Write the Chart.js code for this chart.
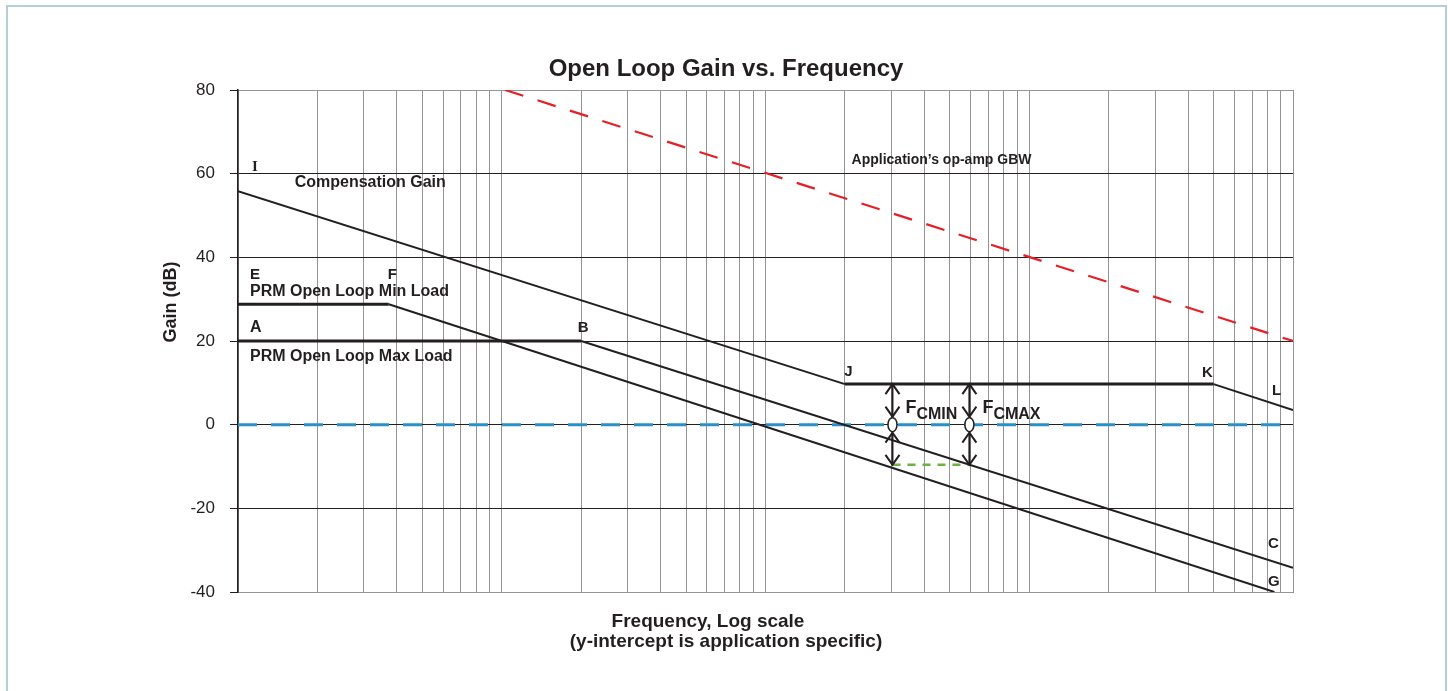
<!DOCTYPE html>
<html>
<head>
<meta charset="utf-8">
<script src="https://cdn.jsdelivr.net/npm/chart.js@4"></script>
<style>
  html, body { margin: 0; padding: 0; background: #fff; }
  #wrap { position: relative; width: 1448px; height: 691px; overflow: hidden; }
  #frame { position: absolute; left: 6px; top: 5px; width: 1437px; height: 700px;
           border: 2px solid #b3d0d9; border-bottom: none; pointer-events: none; }
  canvas { position: absolute; left: 0; top: 0; }
</style>
</head>
<body>
<div id="wrap">
  <canvas id="chart" width="1448" height="691"></canvas>
  <div id="frame"></div>
</div>
<script>
const FONT = "'Liberation Sans', Arial, sans-serif"

// frequency axis: 4 decades, arbitrary units (log scale)
const decades = [1, 10, 100, 1000]
const gridFreqs = decades.flatMap(d => [1, 2, 3, 4, 5, 6, 7, 8, 9].map(m => m * d)).concat([10000])
const gainTicks = [-40, -20, 0, 20, 40, 60, 80]

// compensation gain  I -> J -> K -> L
const compFreq = [1, 200, 5000, 10000]
const compGain = [55.8, 9.7, 9.7, 3.5]
// PRM open loop, max load  A -> B -> C
const maxLoadFreq = [1, 20, 10000]
const maxLoadGain = [20, 20, -34.2]
// PRM open loop, min load  E -> F -> G
const minLoadFreq = [1, 3.73, 8500]
const minLoadGain = [28.8, 28.8, -40]
// application's op-amp gain bandwidth
const gbwFreq = [10.3, 10000]
const gbwGain = [80, 20]
// 0 dB line
const zeroFreq = [1, 10000]
const zeroGain = [0, 0]
// crossover frequencies and the margin line between them
const crossFreq = [303, 593]
const crossNames = ['CMIN', 'CMAX']
const marginGain = [-9.6, -9.6]

const pts = (xs, ys) => xs.map((v, i) => ({ x: v, y: ys[i] }))
const flatWide = c => (c.p0.parsed.y === c.p1.parsed.y ? 3 : 2)

// text labels, placed in data units
const labels = [
  { t: 'I', x: 1.13, y: 60.7, size: 15, serif: true },
  { t: 'Compensation Gain', x: 1.64, y: 56.7, size: 16 },
  { t: 'E', x: 1.11, y: 34.9, size: 15 },
  { t: 'F', x: 3.7, y: 34.9, size: 15 },
  { t: 'PRM Open Loop Min Load', x: 1.11, y: 30.8, size: 16 },
  { t: 'A', x: 1.11, y: 22.2, size: 16 },
  { t: 'B', x: 19.4, y: 22.2, size: 15 },
  { t: 'PRM Open Loop Max Load', x: 1.11, y: 15.1, size: 16 },
  { t: 'J', x: 199, y: 11.7, size: 15 },
  { t: 'K', x: 4520, y: 11.5, size: 15 },
  { t: 'L', x: 8320, y: 7.2, size: 15 },
  { t: 'C', x: 8040, y: -29.4, size: 15 },
  { t: 'G', x: 8040, y: -38.5, size: 15 },
  { t: 'Application\u2019s op-amp GBW', x: 212, y: 62.2, size: 14 },
]

function head(ctx, px, py, dir) {
  ctx.beginPath()
  ctx.moveTo(px - 7, py + dir * 10)
  ctx.lineTo(px, py)
  ctx.lineTo(px + 7, py + dir * 10)
  ctx.stroke()
}

function dblArrow(ctx, px, y1, y2) {
  ctx.beginPath()
  ctx.moveTo(px, y1)
  ctx.lineTo(px, y2)
  ctx.stroke()
  head(ctx, px, y1, 1)
  head(ctx, px, y2, -1)
}

const annotate = {
  id: 'annotate',
  afterDraw(chart) {
    const { ctx } = chart
    const { x, y } = chart.scales
    ctx.save()
    ctx.fillStyle = '#231f20'
    ctx.textBaseline = 'alphabetic'

    // title
    ctx.textAlign = 'center'
    ctx.font = `bold 24px ${FONT}`
    ctx.fillText('Open Loop Gain vs. Frequency', 726, 76)

    // axis titles
    ctx.font = `bold 19px ${FONT}`
    ctx.fillText('Frequency, Log scale', 708, 627)
    ctx.fillText('(y-intercept is application specific)', 726, 647)
    ctx.save()
    ctx.translate(176, 302)
    ctx.rotate(-Math.PI / 2)
    ctx.font = `bold 18px ${FONT}`
    ctx.fillText('Gain (dB)', 0, 0)
    ctx.restore()

    // labels
    ctx.textAlign = 'left'
    labels.forEach(l => {
      ctx.font = `bold ${l.size}px ${l.serif ? "'Liberation Serif', serif" : FONT}`
      ctx.fillText(l.t, x.getPixelForValue(l.x), y.getPixelForValue(l.y))
    })

    // crossover arrows and markers
    ctx.strokeStyle = '#231f20'
    ctx.lineWidth = 2
    const y0 = y.getPixelForValue(0)
    crossFreq.forEach((f, i) => {
      const px = x.getPixelForValue(f)
      dblArrow(ctx, px, y.getPixelForValue(compGain[1]), y0 - 8)
      dblArrow(ctx, px, y0 + 8, y.getPixelForValue(marginGain[i]))
      ctx.beginPath()
      ctx.ellipse(px, y0, 4.5, 7, 0, 0, Math.PI * 2)
      ctx.fillStyle = '#fff'
      ctx.fill()
      ctx.lineWidth = 1.5
      ctx.stroke()
      ctx.lineWidth = 2
      ctx.fillStyle = '#231f20'
      ctx.font = `bold 18px ${FONT}`
      ctx.fillText('F', px + 13, y0 - 12)
      ctx.font = `bold 16px ${FONT}`
      ctx.fillText(crossNames[i], px + 24, y0 - 6)
    })
    ctx.restore()
  }
}

new Chart(document.getElementById('chart'), {
  type: 'line',
  data: {
    datasets: [
      {
        label: 'Compensation Gain',
        data: pts(compFreq, compGain),
        borderColor: '#231f20',
        borderWidth: 2,
        segment: { borderWidth: flatWide },
      },
      {
        label: 'PRM Open Loop Max Load',
        data: pts(maxLoadFreq, maxLoadGain),
        borderColor: '#231f20',
        borderWidth: 2,
        segment: { borderWidth: flatWide },
      },
      {
        label: 'PRM Open Loop Min Load',
        data: pts(minLoadFreq, minLoadGain),
        borderColor: '#231f20',
        borderWidth: 2,
        segment: { borderWidth: flatWide },
      },
      {
        label: 'GBW',
        data: pts(gbwFreq, gbwGain),
        borderColor: '#e41f26',
        borderWidth: 2.2,
        borderDash: [19, 15],
      },
      {
        label: '0 dB',
        data: pts(zeroFreq, zeroGain),
        borderColor: '#2a90c8',
        borderWidth: 3,
        borderDash: [19, 14],
      },
      {
        label: 'Margin',
        data: pts(crossFreq, marginGain),
        borderColor: '#6ab443',
        borderWidth: 2.5,
        borderDash: [8, 7],
      },
    ],
  },
  options: {
    responsive: false,
    animation: false,
    layout: { padding: { top: 90, right: 155, bottom: 0, left: 0 } },
    elements: { point: { radius: 0 }, line: { tension: 0 } },
    scales: {
      x: {
        type: 'logarithmic',
        min: 1,
        max: 10000,
        afterBuildTicks: s => { s.ticks = gridFreqs.map(v => ({ value: v })) },
        afterFit: s => { s.height = 99 },
        ticks: { display: false },
        grid: { color: '#949494', lineWidth: 1, drawTicks: false },
        border: { color: '#949494', width: 1 },
      },
      y: {
        min: -40,
        max: 80,
        afterBuildTicks: s => { s.ticks = gainTicks.map(v => ({ value: v })) },
        afterFit: s => { s.width = 238 },
        ticks: {
          color: '#231f20',
          padding: 15,
          font: { family: FONT, size: 17 },
        },
        grid: {
          color: c => (c.tick && (c.tick.value === 80 || c.tick.value === -40) ? '#949494' : '#231f20'),
          lineWidth: 1,
          tickLength: 8,
          tickColor: '#231f20',
        },
        border: { color: '#231f20', width: 1.5 },
      },
    },
    plugins: {
      legend: { display: false },
      tooltip: { enabled: false },
      title: { display: false },
    },
  },
  plugins: [annotate],
})
</script>
</body>
</html>
